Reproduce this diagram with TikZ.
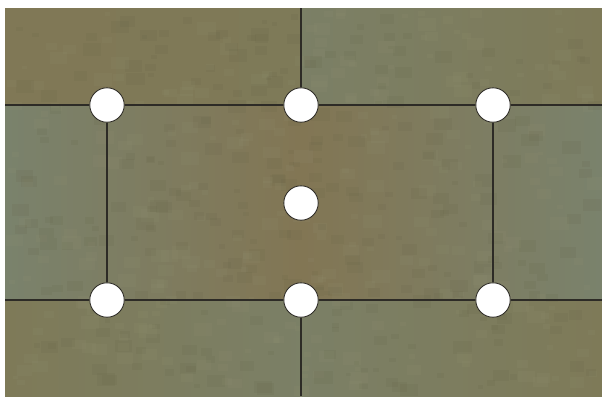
\documentclass[tikz,border=0pt]{standalone}
\usepackage{tikz}
\definecolor{groundolive}{RGB}{126,122,88}
\definecolor{groundgreen}{RGB}{122,130,108}
\definecolor{groundbrown}{RGB}{130,118,84}
\definecolor{groundlight}{RGB}{150,150,118}
\definecolor{grounddark}{RGB}{98,96,68}
\definecolor{wallline}{RGB}{45,43,38}

\begin{document}
\begin{tikzpicture}[x=0.025cm,y=-0.025cm,
 post/.style={circle,draw=wallline,fill=white,line width=0.6pt,minimum size=0.86cm,inner sep=0pt},
 wall/.style={draw=wallline,line width=1.4pt}]
\useasboundingbox (0,0) rectangle (602,396);
% ground
\fill[groundolive] (5,8) rectangle (602,396);
\shade[left color=groundbrown!60!groundolive,right color=groundolive] (5,8) rectangle (300,105);
\shade[left color=groundgreen!70!groundolive,right color=groundolive] (300,8) rectangle (602,105);
\shade[left color=groundgreen,right color=groundbrown] (5,105) rectangle (301,300);
\shade[left color=groundbrown,right color=groundgreen] (301,105) rectangle (602,300);
\shade[left color=groundolive,right color=groundgreen!70!groundolive] (5,300) rectangle (301,396);
\shade[left color=groundgreen!70!groundolive,right color=groundolive] (301,300) rectangle (602,396);
\pgfmathsetseed{7}
\foreach \i in {1,...,600}{
  \pgfmathsetmacro{\px}{5+rnd*585}
  \pgfmathsetmacro{\py}{8+rnd*378}
  \pgfmathsetmacro{\pw}{5+rnd*14}
  \pgfmathparse{rnd>0.5?"groundlight":"grounddark"}
  \fill[\pgfmathresult,opacity=0.12] (\px,\py) rectangle ++(\pw,\pw*0.7);
}
% posts
\node[post] (tl) at (107,105) {};
\node[post] (tm) at (301,105) {};
\node[post] (tr) at (493,105) {};
\node[post] (mid) at (301,203) {};
\node[post] (bl) at (107,300) {};
\node[post] (bm) at (301,300) {};
\node[post] (br) at (493,300) {};
\coordinate (topend) at (301,8);
\coordinate (botend) at (301,396);
\coordinate (ltop) at (5,105);
\coordinate (rtop) at (602,105);
\coordinate (lbot) at (5,300);
\coordinate (rbot) at (602,300);
% walls
\draw[wall] (ltop)--(tl);\draw[wall] (tl)--(tm);\draw[wall] (tm)--(tr);\draw[wall] (tr)--(rtop);
\draw[wall] (lbot)--(bl);\draw[wall] (bl)--(bm);\draw[wall] (bm)--(br);\draw[wall] (br)--(rbot);
\draw[wall] (topend)--(tm);\draw[wall] (bm)--(botend);
\draw[wall] (tl)--(bl);\draw[wall] (tr)--(br);
\end{tikzpicture}
\end{document}
